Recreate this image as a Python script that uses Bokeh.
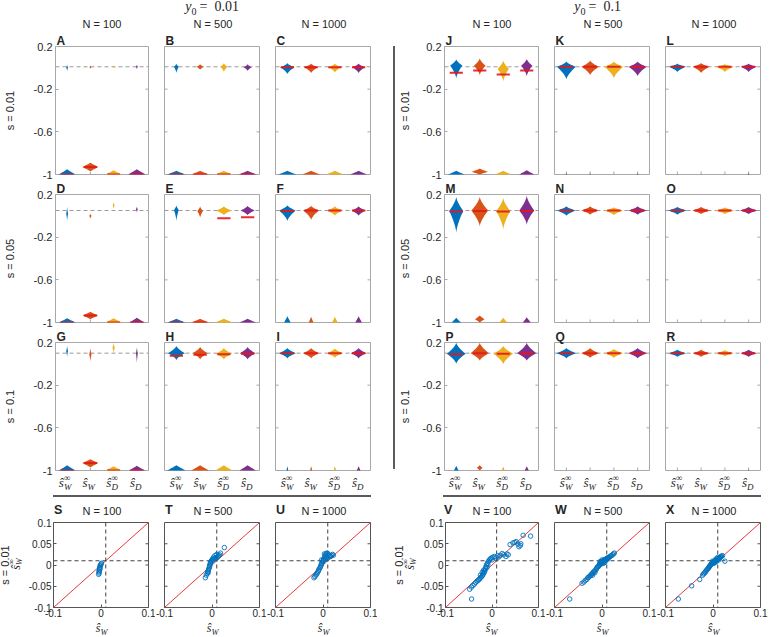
import json
import numpy as np
from bokeh.plotting import figure
from bokeh.models import FixedTicker, Span, Slope, Div, Spacer, ColumnDataSource, CustomJSTickFormatter
from bokeh.layouts import row, column
from bokeh.embed import file_html
from bokeh.resources import INLINE

# ---------------- data ----------------
estimator_sub = ["W", "W", "D", "D"]
estimator_sup = ["∞", "", "∞", ""]
colors = ["#0072BD", "#D95319", "#EDB120", "#7E2F8E"]
s_values = [0.01, 0.05, 0.1]
y0_labels = ["0.01", "0.1"]
N_values = [100, 500, 1000]
violin_letters = ["ABCDEFGHI", "JKLMNOPQR"]
scatter_letters = ["STU", "VWX"]
violin_xticks = [1, 2, 3, 4]
violin_yticks = [-1, -0.6, -0.2, 0.2]
violin_ytick_labels = ["-1", "-0.6", "-0.2", "0.2"]
scatter_yticks = [-0.1, -0.05, 0, 0.05, 0.1]
scatter_ytick_labels = ["-0.1", "-0.05", "0", "0.05", "0.1"]
scatter_xticks = [-0.1, 0, 0.1]
scatter_xtick_labels = ["-0.1", "0", "0.1"]

# violin bodies near the true value, panels A..R, estimators in order
body_top = [
    [0.03, 0.025, 0.025, 0.03], [0.04, 0.035, 0.045, 0.035], [0.045, 0.04, 0.04, 0.04],
    [0.09, 0.02, 0.13, 0.09], [0.10, 0.09, 0.09, 0.095], [0.10, 0.095, 0.09, 0.09],
    [0.17, 0.15, 0.20, 0.16], [0.17, 0.16, 0.15, 0.16], [0.15, 0.15, 0.145, 0.15],
    [0.08, 0.09, 0.07, 0.085], [0.06, 0.07, 0.06, 0.06], [0.04, 0.045, 0.035, 0.04],
    [0.18, 0.18, 0.17, 0.19], [0.09, 0.09, 0.08, 0.09], [0.085, 0.085, 0.08, 0.085],
    [0.20, 0.20, 0.17, 0.20], [0.15, 0.15, 0.14, 0.15], [0.135, 0.135, 0.13, 0.135],
]
body_mode = [
    [0.005, 0.005, 0.01, 0.01], [0.01, 0.01, 0.01, 0.005], [0.005, 0.005, 0.005, 0.005],
    [0.02, 0.0, 0.10, 0.06], [0.055, 0.045, 0.05, 0.05], [0.05, 0.05, 0.05, 0.05],
    [0.12, 0.09, 0.15, 0.10], [0.10, 0.10, 0.095, 0.10], [0.10, 0.10, 0.10, 0.10],
    [0.022, 0.02, -0.009, 0.02], [0.01, 0.01, 0.01, 0.01], [0.01, 0.01, 0.01, 0.01],
    [0.046, 0.05, 0.045, 0.05], [0.05, 0.05, 0.05, 0.05], [0.05, 0.05, 0.05, 0.05],
    [0.095, 0.10, 0.095, 0.10], [0.10, 0.10, 0.10, 0.10], [0.10, 0.10, 0.10, 0.10],
]
body_bot = [
    [-0.035, -0.01, -0.005, -0.015], [-0.05, -0.02, -0.04, -0.03], [-0.06, -0.05, -0.045, -0.05],
    [-0.05, -0.03, 0.06, 0.03], [-0.05, -0.02, 0.005, 0.005], [-0.05, -0.04, 0.0, 0.0],
    [0.06, 0.02, 0.10, 0.0], [0.035, 0.04, 0.04, 0.04], [0.05, 0.05, 0.055, 0.05],
    [-0.10, -0.07, -0.13, -0.08], [-0.11, -0.07, -0.10, -0.08], [-0.04, -0.05, -0.04, -0.04],
    [-0.16, -0.10, -0.13, -0.085], [0.0, 0.01, 0.005, 0.01], [0.01, 0.015, 0.015, 0.015],
    [0.0, 0.03, -0.005, 0.03], [0.05, 0.055, 0.055, 0.05], [0.065, 0.065, 0.07, 0.065],
]
body_hw = [
    [0.04, 0.04, 0.04, 0.04], [0.10, 0.15, 0.15, 0.17], [0.30, 0.29, 0.27, 0.27],
    [0.04, 0.05, 0.04, 0.04], [0.10, 0.12, 0.33, 0.30], [0.35, 0.33, 0.32, 0.30],
    [0.04, 0.05, 0.05, 0.04], [0.36, 0.32, 0.34, 0.33], [0.36, 0.34, 0.33, 0.33],
    [0.26, 0.25, 0.24, 0.24], [0.40, 0.37, 0.40, 0.38], [0.37, 0.36, 0.38, 0.34],
    [0.30, 0.36, 0.30, 0.32], [0.40, 0.38, 0.40, 0.40], [0.40, 0.38, 0.40, 0.37],
    [0.40, 0.39, 0.42, 0.41], [0.42, 0.38, 0.40, 0.40], [0.38, 0.36, 0.38, 0.35],
]
# mass of failed estimates near the lower bound -1
low_mode = [
    [-1, -0.93, -1, -1], [-1, -1, -1, -1], [-1, -1, -1, -1],
    [-1, -0.934, -1, -1], [-1, -1, -1, -1], [-1, -1, -1, -1],
    [-1, -0.93, -1, -1], [-1, -1, -1, -1], [-1, -1, -1, -1],
    [-1, -0.975, -1, -1], [-1, -1, -1, -1], [-1, -1, -1, -1],
    [-1, -0.97, -1, -1], [-1, -1, -1, -1], [-1, -1, -1, -1],
    [-1, -0.975, -1, -1], [-1, -1, -1, -1], [-1, -1, -1, -1],
]
low_top = [
    [-0.95, -0.89, -0.96, -0.95], [-0.965, -0.965, -0.965, -0.965], [-0.965, -0.965, -0.965, -0.965],
    [-0.96, -0.90, -0.96, -0.955], [-0.965, -0.965, -0.965, -0.965], [-0.94, -0.945, -0.945, -0.94],
    [-0.95, -0.894, -0.96, -0.955], [-0.95, -0.95, -0.95, -0.95], [-0.96, -0.96, -0.96, -0.96],
    [-0.965, -0.945, -0.965, -0.96], [-0.985, -0.985, -0.985, -0.985], [-0.985, -0.985, -0.985, -0.985],
    [-0.955, -0.935, -0.955, -0.95], [-0.99, -0.99, -0.99, -0.99], [-0.99, -0.99, -0.99, -0.99],
    [-0.955, -0.95, -0.97, -0.96], [-0.99, -0.99, -0.99, -0.99], [-0.985, -0.985, -0.985, -0.985],
]
low_bot = [
    [-1.05, -0.97, -1.04, -1.05], [-1.035, -1.035, -1.035, -1.035], [-1.035, -1.035, -1.035, -1.035],
    [-1.04, -0.97, -1.04, -1.045], [-1.035, -1.035, -1.035, -1.035], [-1.06, -1.055, -1.055, -1.06],
    [-1.05, -0.97, -1.04, -1.045], [-1.05, -1.05, -1.05, -1.05], [-1.04, -1.04, -1.04, -1.04],
    [-1.035, -1.0, -1.035, -1.04], [-1.015, -1.015, -1.015, -1.015], [-1.015, -1.015, -1.015, -1.015],
    [-1.045, -1.0, -1.045, -1.05], [-1.01, -1.01, -1.01, -1.01], [-1.01, -1.01, -1.01, -1.01],
    [-1.045, -1.0, -1.03, -1.04], [-1.01, -1.01, -1.01, -1.01], [-1.015, -1.015, -1.015, -1.015],
]
low_hw = [
    [0.36, 0.35, 0.35, 0.38], [0.39, 0.38, 0.38, 0.38], [0.38, 0.38, 0.37, 0.36],
    [0.37, 0.33, 0.35, 0.33], [0.38, 0.38, 0.38, 0.35], [0.14, 0.10, 0.12, 0.14],
    [0.36, 0.35, 0.35, 0.35], [0.39, 0.38, 0.36, 0.35], [0.04, 0.04, 0.04, 0.08],
    [0.35, 0.35, 0.35, 0.33], [0.03, 0.03, 0.03, 0.03], [0.0, 0.0, 0.0, 0.03],
    [0.20, 0.20, 0.17, 0.17], [0.0, 0.0, 0.0, 0.0], [0.0, 0.0, 0.0, 0.0],
    [0.10, 0.12, 0.07, 0.09], [0.0, 0.0, 0.0, 0.0], [0.0, 0.0, 0.0, 0.02],
]
medians = [
    [-1, -0.93, -1, -1], [-1, -1, -1, -1], [0.005, 0.005, 0.005, 0.005],
    [-1, -0.934, -1, -1], [-1, -1, -0.022, -0.013], [0.045, 0.05, 0.05, 0.05],
    [-1, -0.93, -1, -1], [0.075, 0.085, 0.09, 0.095], [0.10, 0.10, 0.10, 0.10],
    [-0.045, -0.025, -0.062, -0.025], [0.01, 0.01, 0.01, 0.01], [0.01, 0.01, 0.01, 0.01],
    [0.04, 0.045, 0.04, 0.045], [0.05, 0.05, 0.05, 0.05], [0.05, 0.05, 0.05, 0.05],
    [0.09, 0.10, 0.095, 0.10], [0.10, 0.10, 0.10, 0.10], [0.10, 0.10, 0.10, 0.10],
]

# scatter panels: (s_hat_W, s_hat_W_inf)
S_pts = [(-0.005, -0.022), (-0.004, -0.019), (-0.004, -0.014), (-0.003, -0.011), (-0.003, -0.007),
         (-0.002, -0.005), (-0.002, -0.002), (-0.001, 0.000), (0.000, 0.002), (0.001, 0.004),
         (-0.004, -0.016), (-0.002, -0.009)]
T_pts = [(-0.014, -0.030), (-0.012, -0.024), (-0.010, -0.020), (-0.009, -0.016), (-0.008, -0.013),
         (-0.007, -0.010), (-0.006, -0.007), (-0.005, -0.004), (-0.005, -0.001), (-0.004, 0.002),
         (-0.003, 0.004), (-0.003, 0.006), (-0.002, 0.008), (-0.001, 0.010), (0.000, 0.012),
         (0.001, 0.013), (0.002, 0.013), (0.004, 0.014), (0.006, 0.015), (0.008, 0.016),
         (0.010, 0.017), (0.012, 0.020), (0.014, 0.022), (0.016, 0.024), (0.010, 0.025),
         (0.006, 0.022), (0.018, 0.028), (0.026, 0.041), (-0.008, -0.018), (0.003, 0.018)]
U_pts = [(-0.019, -0.030), (-0.017, -0.027), (-0.015, -0.024), (-0.013, -0.021), (-0.012, -0.018),
         (-0.010, -0.015), (-0.009, -0.012), (-0.008, -0.009), (-0.006, -0.006), (-0.005, -0.003),
         (-0.004, 0.000), (-0.003, 0.003), (-0.003, 0.012), (-0.002, 0.005), (-0.001, 0.008),
         (0.000, 0.010), (0.001, 0.012), (0.002, 0.014), (0.003, 0.017), (0.003, 0.026),
         (0.004, 0.020), (0.005, 0.023), (0.006, 0.026), (0.006, 0.014), (0.008, 0.028),
         (0.008, 0.018), (0.010, 0.027), (0.010, 0.016), (0.012, 0.024), (0.014, 0.022),
         (0.016, 0.020), (0.018, 0.022), (0.020, 0.025), (0.022, 0.023)]
V_pts = [(0.067, 0.070), (0.083, 0.068), (0.039, 0.048), (0.045, 0.052), (0.049, 0.053),
         (0.052, 0.055), (0.056, 0.049), (0.058, 0.043), (0.061, 0.046), (0.062, 0.050),
         (0.001, 0.018), (0.005, 0.020), (0.008, 0.017), (0.012, 0.022), (0.015, 0.019),
         (0.018, 0.023), (0.022, 0.027), (0.025, 0.024), (0.030, 0.020), (0.032, 0.026),
         (0.035, 0.024), (-0.002, 0.016), (-0.004, 0.014), (-0.006, 0.011), (0.000, 0.012),
         (-0.008, 0.008), (-0.009, 0.001), (-0.010, 0.004), (-0.011, -0.006), (-0.012, 0.000),
         (-0.013, -0.004), (-0.014, -0.008), (-0.015, -0.012), (-0.016, -0.015), (-0.017, -0.018),
         (-0.018, -0.012), (-0.019, -0.021), (-0.020, -0.024), (-0.021, -0.017), (-0.022, -0.027),
         (-0.024, -0.029), (-0.025, -0.024), (-0.026, -0.032), (-0.028, -0.034), (-0.030, -0.036),
         (-0.032, -0.038), (-0.035, -0.041), (-0.038, -0.045), (-0.041, -0.048), (-0.044, -0.052),
         (-0.048, -0.057), (-0.044, -0.080)]
W_pts = [(-0.068, -0.080), (-0.042, -0.043), (-0.038, -0.040), (-0.035, -0.036), (-0.032, -0.034),
         (-0.030, -0.030), (-0.028, -0.029), (-0.026, -0.026), (-0.024, -0.025), (-0.022, -0.021),
         (-0.020, -0.024), (-0.020, -0.020), (-0.018, -0.016), (-0.016, -0.015), (-0.015, -0.018),
         (-0.014, -0.012), (-0.012, -0.010), (-0.011, -0.007), (-0.010, -0.005), (-0.008, -0.004),
         (-0.007, -0.002), (-0.006, 0.000), (-0.005, 0.002), (-0.004, 0.004), (-0.004, 0.008),
         (-0.003, 0.005), (-0.002, 0.006), (-0.002, 0.002), (-0.001, 0.007), (0.000, 0.008),
         (0.000, 0.012), (0.001, 0.009), (0.001, 0.005), (0.002, 0.010), (0.003, 0.008),
         (0.003, 0.004), (0.004, 0.011), (0.005, 0.012), (0.006, 0.010), (0.006, 0.006),
         (0.007, 0.013), (0.008, 0.014), (0.009, 0.012), (0.010, 0.015), (0.011, 0.016),
         (0.012, 0.014), (0.013, 0.017), (0.014, 0.018), (0.016, 0.019), (0.018, 0.021),
         (0.020, 0.022), (0.022, 0.024), (0.024, 0.026), (0.026, 0.028)]
X_pts = [(-0.073, -0.080), (-0.045, -0.049), (-0.028, -0.034), (-0.022, -0.024), (-0.020, -0.021),
         (-0.018, -0.019), (-0.016, -0.017), (-0.015, -0.014), (-0.013, -0.012), (-0.012, -0.010),
         (-0.010, -0.008), (-0.009, -0.006), (-0.008, -0.004), (-0.007, -0.003), (-0.006, -0.001),
         (-0.005, 0.000), (-0.004, 0.002), (-0.003, 0.003), (-0.002, 0.004), (-0.001, 0.005),
         (-0.001, 0.009), (0.000, 0.006), (0.001, 0.007), (0.002, 0.008), (0.002, 0.004),
         (0.003, 0.008), (0.004, 0.009), (0.004, 0.006), (0.005, 0.010), (0.006, 0.011),
         (0.006, 0.014), (0.007, 0.012), (0.008, 0.012), (0.008, 0.009), (0.009, 0.013),
         (0.010, 0.014), (0.010, 0.018), (0.011, 0.015), (0.012, 0.016), (0.012, 0.012),
         (0.013, 0.016), (0.014, 0.017), (0.015, 0.018), (0.016, 0.019), (0.017, 0.020),
         (0.018, 0.021), (0.020, 0.022), (0.025, 0.009)]
scatter_sets = [[S_pts, T_pts, U_pts], [V_pts, W_pts, X_pts]]

# ---------------- style / geometry (pixels) ----------------
FONT = "Liberation Sans"
MATH = "Liberation Serif"
TXT = "#262626"
VFRAME = "#a8a8a8"
SFRAME = "#555555"
SEP = "#5b5b5b"
FW, FH, SH = 95, 128, 85
V_TOP = [16, 14, 14]                              # violin figure top border per row (holds letter)
V_BOT = 6
LEFT_B = [[53, 8, 8], [48, 8, 8]]
RIGHT_B = [[8, 8, 8], [8, 8, 9]]
GROUP_W = [378, 374]
GROUP_X0 = [0, 395]
FRAME_X = [[53, 164, 275], [443, 554, 665]]     # absolute frame left edges
AXLAB_STANDOFF = [15, 9]
S_LB = [[29, 9, 9], [26, 9, 9]]
S_RB = [[7, 7, 7], [7, 7, 9]]
SROW_W = [24, 22]
S_TOP, S_BOT = 6, 15
TITLE_SHIFT = [0, -1]
MED_HW = 0.28
HEAD_H, XL_H = 30, 18


def fmt(ticks, labels):
    m = json.dumps({str(t): l for t, l in zip(ticks, labels)})
    return CustomJSTickFormatter(
        code=f"const m = {m}; const k = String(tick); return (k in m) ? m[k] : k;")


def style_axis(ax, ticks, labels, color, size, standoff):
    ax.ticker = FixedTicker(ticks=ticks)
    ax.formatter = fmt(ticks, labels)
    ax.axis_line_color = None
    ax.major_tick_line_color = color
    ax.major_tick_in = 3
    ax.major_tick_out = 0
    ax.minor_tick_line_color = None
    ax.major_label_text_font = FONT
    ax.major_label_text_color = TXT
    ax.major_label_text_font_size = size
    ax.major_label_standoff = standoff


def inner_ticks(p, side, ticks, lo, hi, color):
    n = len(ticks)
    if side == "left":
        p.ray(x=[lo] * n, y=ticks, length=3, length_units="screen", angle=0, line_color=color)
    elif side == "right":
        p.ray(x=[hi] * n, y=ticks, length=3, length_units="screen", angle=np.pi, line_color=color)
    elif side == "bottom":
        p.ray(x=ticks, y=[lo] * n, length=3, length_units="screen", angle=np.pi / 2, line_color=color)


def new_fig(lb, rb, tb, bb, fh, xr, yr, frame_color):
    p = figure(width=lb + FW + rb, height=tb + fh + bb, x_range=xr, y_range=yr,
               output_backend="svg", toolbar_location=None,
               min_border_left=lb, min_border_right=rb, min_border_top=tb, min_border_bottom=bb,
               outline_line_color=frame_color, outline_line_width=1,
               border_fill_color="white", background_fill_color="white")
    p.xgrid.visible = False
    p.ygrid.visible = False
    return p


def span(x, base, text, size, font=FONT, style="normal", weight="normal", align="left"):
    k = 0.8465 if font == FONT else 0.8375
    top = base - k * size
    if align == "left":
        pos = f"left:{x:.1f}px;"
    elif align == "center":
        pos = f"left:{x - 100:.1f}px;width:200px;text-align:center;"
    else:
        pos = f"left:{x - 200:.1f}px;width:200px;text-align:right;"
    return (f'<span style="position:absolute;{pos}top:{top:.1f}px;font-family:\'{font}\';'
            f'font-size:{size}px;font-style:{style};font-weight:{weight};line-height:1;'
            f'white-space:nowrap;color:{TXT};">{text}</span>')


def hat(cx, base, sub, sup, bsize=13, ssize=9, sup_rise=5.5):
    h = span(cx - 1, base, "ŝ", bsize, MATH, "italic", align="right")
    h += span(cx - 1, base + 3, sub, ssize, MATH, "italic")
    if sup:
        h += span(cx - 1, base - sup_rise, sup, ssize, MATH)
    return h


def html_div(w, h, inner):
    return Div(text=f'<div style="position:relative;width:{w}px;height:{h}px;">{inner}</div>',
               width=w, height=h, margin=0)


def outline(xc, mode, top, bot, hw, pw, n=16):
    lower = np.linspace(bot, mode, n)
    upper = np.linspace(mode, top, n)[1:]
    wl = hw * ((lower - bot) / max(mode - bot, 1e-9)) ** pw
    wu = hw * ((top - upper) / max(top - mode, 1e-9)) ** pw
    yv = np.concatenate([lower, upper])
    wv = np.concatenate([wl, wu])
    return list(np.concatenate([xc + wv, (xc - wv)[::-1]])), list(np.concatenate([yv, yv[::-1]]))


def violin_panel(g, r, c):
    k = g * 9 + r * 3 + c
    lb, rb = LEFT_B[g][c], RIGHT_B[g][c]
    p = new_fig(lb, rb, V_TOP[r], V_BOT, FH, (0.5, 4.5), (-1, 0.2), VFRAME)
    p.title.text = violin_letters[g][r * 3 + c]
    p.title.align = "left"
    p.title.offset = 1
    p.title.standoff = -2
    p.title.text_font = FONT
    p.title.text_font_size = "12px"
    p.title.text_font_style = "bold"
    p.title.text_color = TXT
    p.xaxis.visible = False
    if c == 0:
        ax = p.yaxis[0]
        style_axis(ax, violin_yticks, violin_ytick_labels, VFRAME, "11px", 3)
        ax.axis_label = f"s = {s_values[r]}"
        ax.axis_label_text_font = FONT
        ax.axis_label_text_font_style = "normal"
        ax.axis_label_text_font_size = "11px"
        ax.axis_label_text_color = TXT
        ax.axis_label_standoff = AXLAB_STANDOFF[g]
    else:
        p.yaxis.visible = False
        inner_ticks(p, "left", violin_yticks, 0.5, 4.5, VFRAME)
    inner_ticks(p, "right", violin_yticks, 0.5, 4.5, VFRAME)
    inner_ticks(p, "bottom", violin_xticks, -1, 0.2, VFRAME)
    p.add_layout(Span(location=s_values[r], dimension="width", line_color="#9a9a9a",
                      line_dash="4 3", line_width=1, level="underlay"))
    xs, ys, cs = [], [], []
    for i in range(4):
        xc = violin_xticks[i]
        if body_hw[k][i] > 0:
            px, py = outline(xc, body_mode[k][i], body_top[k][i], body_bot[k][i], body_hw[k][i], 1.5)
            xs.append(px); ys.append(py); cs.append(colors[i])
        if low_hw[k][i] > 0:
            px, py = outline(xc, low_mode[k][i], low_top[k][i], low_bot[k][i], low_hw[k][i], 1.1)
            xs.append(px); ys.append(py); cs.append(colors[i])
    p.patches("xs", "ys", fill_color="c", line_color=None,
              source=ColumnDataSource(dict(xs=xs, ys=ys, c=cs)))
    xc = np.array(violin_xticks, dtype=float)
    p.segment(x0=list(xc - MED_HW), x1=list(xc + MED_HW), y0=medians[k], y1=medians[k],
              line_color="#e4161b", line_width=2, line_alpha=0.9)
    return p


ROW_H = [V_TOP[r] + FH + V_BOT for r in range(3)]
XL_Y = HEAD_H + sum(ROW_H)
TOP_H = XL_Y + XL_H


def group_column(g):
    x0 = GROUP_X0[g]
    fx = [f - x0 for f in FRAME_X[g]]
    W = GROUP_W[g]
    c1 = fx[1] + FW / 2 + TITLE_SHIFT[g]
    h = span(c1 - 20, 12, "y", 14, MATH, "italic", align="right")
    h += span(c1 - 20, 15, "0", 10, MATH)
    h += span(c1 - 12, 12, "=&#8194;" + y0_labels[g], 14, MATH)
    for c in range(3):
        h += span(fx[c] + FW / 2 + 1.5, 28.5, f"N = {N_values[c]}", 11, FONT, align="center")
    header = html_div(W, HEAD_H, h)
    xl = ""
    for c in range(3):
        for i in range(4):
            cx = fx[c] + (violin_xticks[i] - 0.5) / 4 * FW
            xl += hat(cx, 11, estimator_sub[i], estimator_sup[i])
    rows = [row([violin_panel(g, r, c) for c in range(3)]) for r in range(3)]
    return column(header, rows[0], rows[1], rows[2], html_div(W, XL_H, xl))


def scatter_panel(g, c):
    pts = scatter_sets[g][c]
    lb, rb = S_LB[g][c], S_RB[g][c]
    p = new_fig(lb, rb, S_TOP, S_BOT, SH, (-0.1, 0.1), (-0.1, 0.1), SFRAME)
    style_axis(p.xaxis[0], scatter_xticks, scatter_xtick_labels, SFRAME, "10px", 1)
    if c == 0:
        style_axis(p.yaxis[0], scatter_yticks, scatter_ytick_labels, SFRAME, "10px", 2)
    else:
        p.yaxis.visible = False
        inner_ticks(p, "left", scatter_yticks, -0.1, 0.1, SFRAME)
    inner_ticks(p, "right", scatter_yticks, -0.1, 0.1, SFRAME)
    p.add_layout(Slope(gradient=1, y_intercept=0, line_color="#e8383d", line_width=1, level="underlay"))
    p.add_layout(Span(location=s_values[0], dimension="width", line_color="#404040",
                      line_dash="4 3", line_width=1, level="underlay"))
    p.add_layout(Span(location=s_values[0], dimension="height", line_color="#404040",
                      line_dash="4 3", line_width=1, level="underlay"))
    p.scatter([q[0] for q in pts], [q[1] for q in pts], marker="circle", size=4.5,
              fill_color=None, line_color="#0072BD", line_width=0.9)
    return p


def scatter_rowlabel(g):
    w = SROW_W[g]
    cy = S_TOP + SH / 2
    inner = span(43, 9, f"s = {s_values[0]}", 11, FONT, align="center") + hat(44, 20, "W", "∞", 12, 8, 5)
    rot = (f'<div style="position:absolute;left:{w / 2 - 43:.1f}px;top:{cy - 12:.1f}px;width:86px;'
           f'height:24px;transform:rotate(-90deg);">{inner}</div>')
    return html_div(w, S_TOP + SH + S_BOT, rot)


# ---------------- layout ----------------
vsep = column(Spacer(width=2, height=46),
              Div(text="", width=2, height=423, margin=0, styles={"background-color": SEP}),
              Spacer(width=2, height=TOP_H - 46 - 423))
top_part = row(group_column(0), Spacer(width=GROUP_X0[1] - 2 - GROUP_W[0], height=TOP_H), vsep,
               group_column(1))

hsep = row(Spacer(width=53, height=2),
           Div(text="", width=318, height=2, margin=0, styles={"background-color": SEP}),
           Spacer(width=FRAME_X[1][0] - 371, height=2),
           Div(text="", width=318, height=2, margin=0, styles={"background-color": SEP}))

TOTAL_W = GROUP_X0[1] + GROUP_W[1]
SHEAD_H = 19
sh = ""
sx = ""
for g in range(2):
    for c in range(3):
        fxa = FRAME_X[g][c]
        sh += span(fxa + 1, 17.5, scatter_letters[g][c], 12.5, FONT, weight="bold")
        sh += span(fxa + FW / 2 + 1.5, 18, f"N = {N_values[c]}", 11, FONT, align="center")
        sx += hat(fxa + FW / 2 + 1, 10.5, "W", "", 12, 8.5)
scatter_header = html_div(TOTAL_W, SHEAD_H, sh)
scatter_xlabel = html_div(TOTAL_W, 14, sx)

scatter_row = row(scatter_rowlabel(0), scatter_panel(0, 0), scatter_panel(0, 1), scatter_panel(0, 2),
                  Spacer(width=GROUP_X0[1] - 377, height=S_TOP + SH + S_BOT),
                  scatter_rowlabel(1), scatter_panel(1, 0), scatter_panel(1, 1), scatter_panel(1, 2))

layout = column(top_part, Spacer(width=1, height=1), hsep, scatter_header, scatter_row, scatter_xlabel)

open("out.html", "w").write(file_html(layout, INLINE))
